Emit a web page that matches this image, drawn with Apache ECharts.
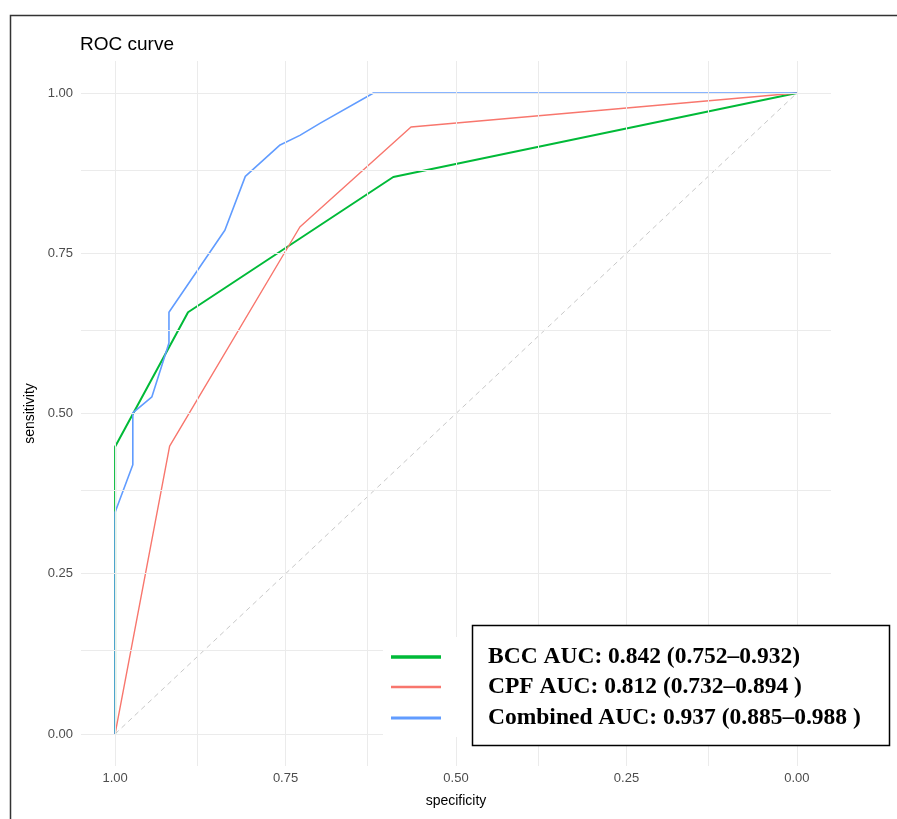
<!DOCTYPE html>
<html>
<head>
<meta charset="utf-8">
<script src="https://cdn.jsdelivr.net/npm/echarts@6/dist/echarts.min.js"></script>
<style>
  html, body { margin: 0; padding: 0; background: #fff; }
  #chart { width: 897px; height: 819px; }
</style>
</head>
<body>
<div id="chart"></div>
<script>
// ROC curves (specificity, sensitivity)
const bccSpec = [1, 1, 0.893, 0.592, 0];
const bccSens = [0, 0.448, 0.658, 0.869, 1];
const cpfSpec = [1, 0.92, 0.729, 0.566, 0];
const cpfSens = [0, 0.449, 0.791, 0.947, 1];
const combSpec = [1, 1, 0.974, 0.974, 0.946, 0.921, 0.921, 0.839, 0.809, 0.758, 0.729, 0.699, 0.621, 0];
const combSens = [0, 0.346, 0.420, 0.501, 0.526, 0.610, 0.658, 0.786, 0.870, 0.919, 0.934, 0.953, 1, 1];

const tickValues = [0, 0.25, 0.5, 0.75, 1];
const gridValues = [0, 0.125, 0.25, 0.375, 0.5, 0.625, 0.75, 0.875, 1];
const legendLabels = [
  'BCC AUC: 0.842 (0.752\u20130.932)',
  'CPF AUC: 0.812 (0.732\u20130.894 )',
  'Combined AUC: 0.937 (0.885\u20130.988 )'
];
const colors = ['#00BA38', '#F8766D', '#619CFF'];

const zip = (xs, ys) => xs.map((x, i) => [x, ys[i]]);

const chart = echarts.init(document.getElementById('chart'), null, { renderer: 'canvas' });

const axisCommon = {
  type: 'value', min: -0.05, max: 1.05,
  axisLine: { show: false }, axisTick: { show: false }, splitLine: { show: false },
  axisLabel: {
    customValues: tickValues, color: '#4D4D4D', fontSize: 13, fontFamily: 'Liberation Sans',
    formatter: v => v.toFixed(2)
  },
  nameTextStyle: { color: '#000', fontSize: 14, fontFamily: 'Liberation Sans' }
};

const keyY = [657, 687, 718];
const keyW = [3.5, 2.5, 3.2];

chart.setOption({
  animation: false,
  backgroundColor: '#fff',
  title: {
    text: 'ROC curve', left: 75, top: 30,
    textStyle: { fontSize: 19, fontWeight: 'normal', color: '#000', fontFamily: 'Liberation Sans' }
  },
  grid: { left: 81, right: 66, top: 61, bottom: 53 },
  xAxis: Object.assign({}, axisCommon, {
    inverse: true, name: 'specificity', nameLocation: 'middle', nameGap: 28,
    axisLabel: Object.assign({}, axisCommon.axisLabel, { margin: 6 })
  }),
  yAxis: Object.assign({}, axisCommon, {
    name: 'sensitivity', nameLocation: 'middle', nameGap: 37,
    axisLabel: Object.assign({}, axisCommon.axisLabel, { margin: 8 })
  }),
  series: [
    {
      type: 'line', data: [], silent: true,
      markLine: {
        silent: true, symbol: 'none', label: { show: false },
        lineStyle: { color: '#EBEBEB', width: 1, type: 'solid' },
        data: gridValues.map(v => ({ xAxis: v })).concat(gridValues.map(v => ({ yAxis: v })))
      }
    },
    {
      type: 'line', data: [[1, 0], [0, 1]], symbol: 'none', silent: true,
      lineStyle: { color: '#C8C8C8', width: 1, type: [5, 4] }
    },
    { name: 'BCC', type: 'line', data: zip(bccSpec, bccSens), symbol: 'none', lineStyle: { color: colors[0], width: 2 } },
    { name: 'CPF', type: 'line', data: zip(cpfSpec, cpfSens), symbol: 'none', lineStyle: { color: colors[1], width: 1.4 } },
    { name: 'Combined', type: 'line', data: zip(combSpec, combSens), symbol: 'none', lineStyle: { color: colors[2], width: 1.6 } }
  ],
  graphic: [
    { type: 'rect', z: 100, shape: { x: 10.5, y: 15.5, width: 900, height: 820 },
      style: { fill: 'none', stroke: '#333', lineWidth: 1.5 } },
    { type: 'rect', z: 100, shape: { x: 383, y: 637, width: 90, height: 100 }, style: { fill: '#fff' } },
    { type: 'rect', z: 100, shape: { x: 472.5, y: 625.5, width: 417, height: 120 },
      style: { fill: '#fff', stroke: '#000', lineWidth: 1.5 } }
  ].concat(legendLabels.map((t, i) => ({
    type: 'line', z: 101, shape: { x1: 391, y1: keyY[i], x2: 441, y2: keyY[i] },
    style: { stroke: colors[i], lineWidth: keyW[i] }
  }))).concat(legendLabels.map((t, i) => ({
    type: 'text', z: 101, x: 488, y: keyY[i],
    style: { text: t, fill: '#000', font: 'bold 23.5px "Liberation Serif"', textVerticalAlign: 'middle' }
  })))
});
</script>
</body>
</html>
